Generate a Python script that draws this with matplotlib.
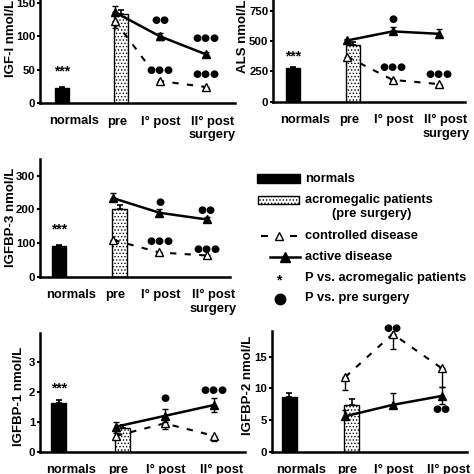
import matplotlib
matplotlib.use("Agg")
import matplotlib.pyplot as plt
from matplotlib.patches import Rectangle
import numpy as np

plt.rcParams['font.family'] = ['Liberation Sans', 'DejaVu Sans']
plt.rcParams['font.weight'] = 'bold'
plt.rcParams['hatch.linewidth'] = 0.6

# ---------------- data ----------------
categories = ["normals", "pre", "I° post", "II° post\nsurgery"]

# IGF-I (nmol/L)
igf1_normals, igf1_normals_err = 22, 1.5
igf1_pre, igf1_pre_err = 133, 6
igf1_active = [136, 100, 73]
igf1_active_lo = [0, 5, 4]
igf1_active_hi = [9, 5, 4]
igf1_ctrl = [123, 33, 24]
igf1_ctrl_lo = [11, 3, 2]
igf1_ctrl_hi = [0, 0, 0]

# ALS (nmol/L)
als_normals, als_normals_err = 280, 5
als_pre, als_pre_err = 470, 25
als_active = [505, 580, 560]
als_active_lo = [0, 20, 20]
als_active_hi = [15, 35, 40]
als_ctrl = [372, 180, 145]
als_ctrl_lo = [30, 8, 8]
als_ctrl_hi = [0, 0, 0]

# IGFBP-3 (nmol/L)
bp3_normals, bp3_normals_err = 92, 2
bp3_pre, bp3_pre_err = 200, 14
bp3_active = [233, 190, 170]
bp3_active_lo = [0, 8, 6]
bp3_active_hi = [15, 12, 8]
bp3_ctrl = [109, 72, 63]
bp3_ctrl_lo = [5, 5, 5]
bp3_ctrl_hi = [0, 0, 0]

# IGFBP-1 (nmol/L)
bp1_normals, bp1_normals_err = 1.65, 0.08
bp1_pre, bp1_pre_err = 0.78, 0.1
bp1_active = [0.84, 1.2, 1.57]
bp1_active_lo = [0.15, 0.22, 0.24]
bp1_active_hi = [0.15, 0.22, 0.24]
bp1_ctrl = [0.53, 0.95, 0.53]
bp1_ctrl_lo = [0.1, 0.18, 0.16]
bp1_ctrl_hi = [0.1, 0.18, 0.0]

# IGFBP-2 (nmol/L)
bp2_normals, bp2_normals_err = 8.6, 0.6
bp2_pre, bp2_pre_err = 7.4, 0.9
bp2_active = [5.6, 7.4, 8.8]
bp2_active_lo = [0.5, 0.0, 1.2]
bp2_active_hi = [1.0, 1.8, 1.4]
bp2_ctrl = [11.8, 18.6, 13.2]
bp2_ctrl_lo = [2.1, 2.3, 3.0]
bp2_ctrl_hi = [0, 0, 0]

# significance marks: (category index, y, text)
igf1_sig = [(0, 47, "***"), (2, 124, "●●"), (2, 50, "●●●"), (3, 97, "●●●"), (3, 43, "●●●")]
als_sig = [(0, 376, "***"), (2, 681, "●"), (2, 288, "●●●"), (3, 228, "●●●")]
bp3_sig = [(0, 139, "***"), (2, 221, "●"), (2, 107, "●●●"), (3, 198, "●●"), (3, 81, "●●●")]
bp1_sig = [(0, 2.13, "***"), (2, 1.79, "●"), (3, 2.07, "●●●")]
bp2_sig = [(2, 19.5, "●●"), (3, 6.7, "●●")]

# ---------------- layout ----------------
W = H = 474
DPI = 100
fig = plt.figure(figsize=(W / DPI, H / DPI), dpi=DPI)

x_bar = [0.0, 1.0]              # normals bar, pre bar
x_line = [0.9, 1.66, 2.44]      # pre, I° post, II° post
x_sig = [0.0, 1.0, 1.66, 2.44]
x_lab = [0.2, 0.93, 1.68, 2.55]
bar_w = 0.24

def make_axes(left, right, zero_y, px_per_unit, ytop, norm_px, unit):
    top = zero_y - ytop * px_per_unit
    ax = fig.add_axes([left / W, 1 - zero_y / H, (right - left) / W, (zero_y - top) / H])
    ax.set_xlim((left - norm_px) / unit, (right - norm_px) / unit)
    ax.set_ylim(0, ytop)
    ax._px = (left, right, top, zero_y)
    return ax

def draw_panel(ax, normals, normals_err, pre, pre_err, active, a_lo, a_hi,
               ctrl, c_lo, c_hi, sig, yticks, ylabel, ylab_px, sigsize=7.5):
    ax.bar([x_bar[0]], [normals], width=bar_w, color='black', edgecolor='black', zorder=2)
    ax.bar([x_bar[1]], [pre], width=bar_w, color='white', edgecolor='black',
           hatch='.....', linewidth=1.0, zorder=2)
    ax.errorbar(x_bar, [normals, pre], yerr=[[0, 0], [normals_err, pre_err]],
                fmt='none', ecolor='black', elinewidth=1.2, capsize=2.5, capthick=1.2, zorder=3)
    ax.errorbar(x_line, ctrl, yerr=[c_lo, c_hi], fmt='^', ls=(0, (3, 4)), color='black',
                lw=1.5, ms=5.5, mfc='white', mec='black', mew=1.0,
                elinewidth=1.0, capsize=2.5, capthick=1.0, zorder=4)
    ax.errorbar(x_line, active, yerr=[a_lo, a_hi], fmt='-^', color='black',
                lw=1.8, ms=6, mfc='black', mec='black',
                elinewidth=1.0, capsize=2.5, capthick=1.0, zorder=5)
    for i, y, s in sig:
        if s == "***":
            ax.text(x_sig[i], y, s, ha='center', va='center', fontsize=10, fontweight='bold')
        else:
            ax.text(x_sig[i], y, s, ha='center', va='center', fontsize=sigsize,
                    family=['DejaVu Sans'])
    for sp in ['top', 'right']:
        ax.spines[sp].set_visible(False)
    ax.spines['left'].set_linewidth(1.8)
    ax.spines['bottom'].set_linewidth(1.8)
    ax.set_yticks(yticks)
    ax.set_yticklabels([str(t) for t in yticks], fontsize=8.2, fontweight='bold')
    ax.tick_params(axis='y', length=2.5, width=1.5, pad=0.8)
    ax.set_xticks(x_lab)
    ax.set_xticklabels(categories, fontsize=9.3, fontweight='bold')
    ax.tick_params(axis='x', length=0, pad=9)
    ax.set_ylabel(ylabel, fontsize=9.5, fontweight='bold', va='center')
    left, right, top, bottom = ax._px
    ax.yaxis.set_label_coords((ylab_px[0] - left) / (right - left),
                              (bottom - ylab_px[1]) / (bottom - top))

# Panel 1: IGF-I
ax1 = make_axes(40, 235, 103, 100 / 150, 175, 62, 59)
draw_panel(ax1, igf1_normals, igf1_normals_err, igf1_pre, igf1_pre_err,
           igf1_active, igf1_active_lo, igf1_active_hi,
           igf1_ctrl, igf1_ctrl_lo, igf1_ctrl_hi, igf1_sig,
           [0, 50, 100, 150], "IGF-I nmol/L", (11, 38))

# Panel 2: ALS
ax2 = make_axes(273, 465, 101.7, 30.3 / 250, 875, 293, 60)
draw_panel(ax2, als_normals, als_normals_err, als_pre, als_pre_err,
           als_active, als_active_lo, als_active_hi,
           als_ctrl, als_ctrl_lo, als_ctrl_hi, als_sig,
           [0, 250, 500, 750], "ALS nmol/L", (243, 36.5))

# Panel 3: IGFBP-3
ax3 = make_axes(40, 230, 276.7, 101 / 300, 350, 59, 60.5)
draw_panel(ax3, bp3_normals, bp3_normals_err, bp3_pre, bp3_pre_err,
           bp3_active, bp3_active_lo, bp3_active_hi,
           bp3_ctrl, bp3_ctrl_lo, bp3_ctrl_hi, bp3_sig,
           [0, 100, 200, 300], "IGFBP-3 nmol/L", (11, 217))

# Panel 5: IGFBP-1
ax5 = make_axes(40, 245, 451.7, 29.8, 4.0, 58.7, 63.8)
draw_panel(ax5, bp1_normals, bp1_normals_err, bp1_pre, bp1_pre_err,
           bp1_active, bp1_active_lo, bp1_active_hi,
           bp1_ctrl, bp1_ctrl_lo, bp1_ctrl_hi, bp1_sig,
           [0, 1, 2, 3], "IGFBP-1 nmol/L", (19, 396))

# Panel 6: IGFBP-2
ax6 = make_axes(272, 467, 451.7, 6.33, 19, 289, 62.5)
draw_panel(ax6, bp2_normals, bp2_normals_err, bp2_pre, bp2_pre_err,
           bp2_active, bp2_active_lo, bp2_active_hi,
           bp2_ctrl, bp2_ctrl_lo, bp2_ctrl_hi, bp2_sig,
           [0, 5, 10, 15], "IGFBP-2 nmol/L", (248, 385))

# ---------------- legend (panel 4) ----------------
lg = fig.add_axes([0, 0, 1, 1], facecolor='none')
lg.set_xlim(0, W)
lg.set_ylim(H, 0)
lg.axis('off')
fs = 9.3
lg.add_patch(Rectangle((257, 174), 43, 9, facecolor='black', edgecolor='black'))
lg.text(305, 178.5, "normals", fontsize=fs, fontweight='bold', va='center')
lg.add_patch(Rectangle((258, 196), 41, 8, facecolor='white', edgecolor='black',
                       hatch='.....', linewidth=1.0))
lg.text(305, 199.5, "acromegalic patients", fontsize=fs, fontweight='bold', va='center')
lg.text(332, 213.5, "(pre surgery)", fontsize=fs, fontweight='bold', va='center')
lg.plot([262, 267], [236, 236], color='black', lw=1.5)
lg.plot([291, 296], [236, 236], color='black', lw=1.5)
lg.plot([279], [236], marker='^', ms=6, mfc='white', mec='black', mew=1.0)
lg.text(305, 235.5, "controlled disease", fontsize=fs, fontweight='bold', va='center')
lg.plot([270, 300], [257, 257], color='black', lw=1.8)
lg.plot([285], [256.5], marker='^', ms=6.5, color='black')
lg.text(305, 257, "active disease", fontsize=fs, fontweight='bold', va='center')
lg.text(279, 280, "*", fontsize=10, fontweight='bold', ha='center', va='center')
lg.text(305, 277.5, "P vs. acromegalic patients", fontsize=fs, fontweight='bold', va='center')
lg.plot([280], [298.5], marker='o', ms=7.5, color='black')
lg.text(305, 297.5, "P vs. pre surgery", fontsize=fs, fontweight='bold', va='center')

fig.savefig("out.png", dpi=DPI)
